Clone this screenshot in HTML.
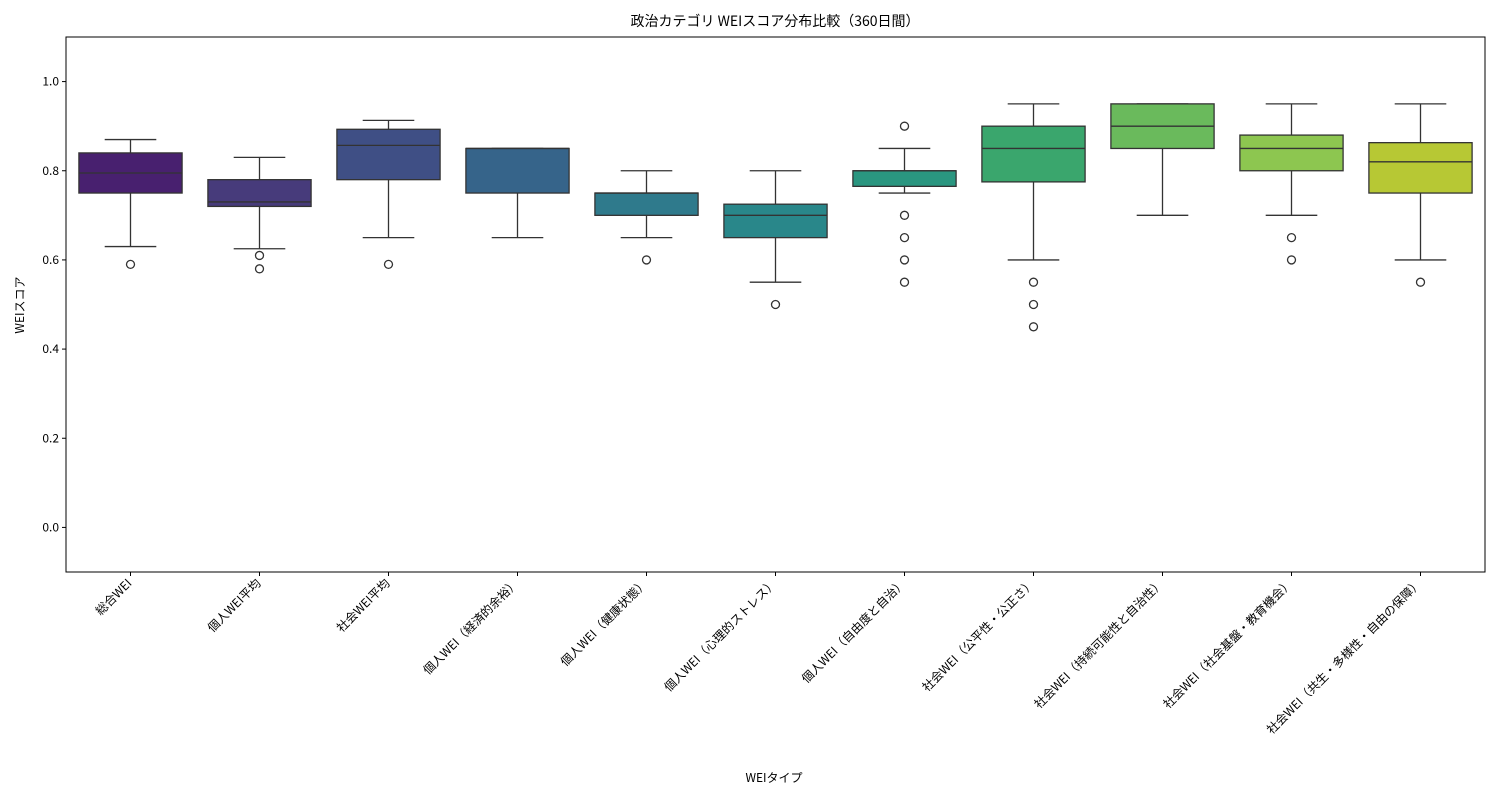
<!DOCTYPE html>
<html><head><meta charset="utf-8"><style>
body{margin:0;background:#fff}
svg text{font-family:"Noto Sans CJK JP","Liberation Sans",sans-serif;fill:#000}
</style></head><body>
<svg width="1500" height="800">
<text x="775" y="26" font-size="14" text-anchor="middle">政治カテゴリ WEIスコア分布比較（360日間）</text>
<g id="plot"></g>
<rect x="66" y="37" width="1419" height="535" fill="none" stroke="#000" stroke-width="1"/>
<text transform="translate(24,305) rotate(-90)" font-size="12" text-anchor="middle">WEIスコア</text>
<text x="774" y="782" font-size="12" text-anchor="middle">WEIタイプ</text>
</svg>
<script>
const categories=["総合WEI","個人WEI平均","社会WEI平均","個人WEI（経済的余裕）","個人WEI（健康状態）","個人WEI（心理的ストレス）","個人WEI（自由度と自治）","社会WEI（公平性・公正さ）","社会WEI（持続可能性と自治性）","社会WEI（社会基盤・教育機会）","社会WEI（共生・多様性・自由の保障）"];
const whiskerLow=[0.63,0.625,0.65,0.65,0.65,0.55,0.75,0.60,0.70,0.70,0.60];
const q1=[0.75,0.72,0.78,0.75,0.70,0.65,0.765,0.775,0.85,0.80,0.75];
const medians=[0.795,0.73,0.857,0.85,0.75,0.70,0.80,0.85,0.90,0.85,0.82];
const q3=[0.84,0.78,0.893,0.85,0.75,0.725,0.80,0.90,0.95,0.88,0.863];
const whiskerHigh=[0.87,0.83,0.913,0.85,0.80,0.80,0.85,0.95,0.95,0.95,0.95];
const outliers=[[0.59],[0.61,0.58],[0.59],[],[0.60],[0.50],[0.90,0.70,0.65,0.60,0.55],[0.55,0.50,0.45],[],[0.65,0.60],[0.55]];
const yTicks=[0.0,0.2,0.4,0.6,0.8,1.0];
const colors=['#48206f','#473b7b','#3f4f85','#36648a','#2f7a8c','#29878a','#2a9680','#3aa66d','#6aba5c','#8dc650','#b7c834'];
const NS="http://www.w3.org/2000/svg";
const L=66,R=1485,T=37,B=572,ymin=-0.1,ymax=1.1;
const ys=v=>B-(v-ymin)/(ymax-ymin)*(B-T);
const step=(R-L)/categories.length;
const xs=i=>L+step*(i+0.5);
const g=document.getElementById('plot');
function mk(tag,a){const e=document.createElementNS(NS,tag);for(const k in a)e.setAttribute(k,a[k]);g.appendChild(e);return e;}
yTicks.forEach(t=>{
 const l=mk('line',{x1:L-4,x2:L,y1:ys(t),y2:ys(t),stroke:'#000'});
 
 
 const tx=mk('text',{x:L-7,y:ys(t)+4,'font-size':12,'text-anchor':'end'});
 tx.textContent=t.toFixed(1);
 
 
});
const bw=step*0.8;
categories.forEach((c,i)=>{
 const x=xs(i);
 const tk=mk('line',{x1:x,x2:x,y1:B,y2:B+4,stroke:'#000'});
 
 
 const tx=mk('text',{transform:`translate(${x+2},${B+12}) rotate(-45)`,'font-size':12,'text-anchor':'end'});
 tx.textContent=c;
 
 
 const st={stroke:'#333','stroke-width':1.3};
 const w1=mk('line',Object.assign({x1:x,x2:x,y1:ys(whiskerLow[i]),y2:ys(q1[i])},st));
 
 
 const w2=mk('line',Object.assign({x1:x,x2:x,y1:ys(q3[i]),y2:ys(whiskerHigh[i])},st));
 
 
 const c1=mk('line',Object.assign({x1:x-bw/4,x2:x+bw/4,y1:ys(whiskerLow[i]),y2:ys(whiskerLow[i])},st));
 
 
 const c2=mk('line',Object.assign({x1:x-bw/4,x2:x+bw/4,y1:ys(whiskerHigh[i]),y2:ys(whiskerHigh[i])},st));
 
 
 const bx=mk('rect',{x:x-bw/2,y:ys(q3[i]),width:bw,height:Math.max(0,ys(q1[i])-ys(q3[i])),fill:colors[i],stroke:'#333','stroke-width':1.3});
 
 
 const md=mk('line',Object.assign({x1:x-bw/2,x2:x+bw/2,y1:ys(medians[i]),y2:ys(medians[i])},st));
 
 
 outliers[i].forEach(v=>{
  const o=mk('circle',{cx:x,cy:ys(v),r:4,fill:'none',stroke:'#333','stroke-width':1.3});
  
  
 });
});
</script>
</body></html>
